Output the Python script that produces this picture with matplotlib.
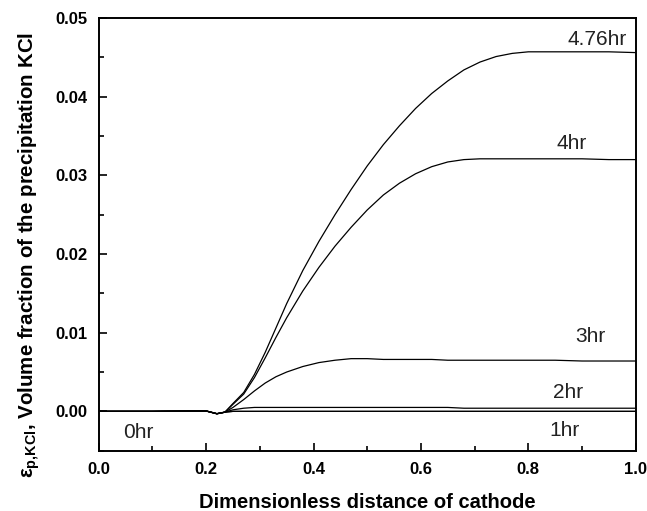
import matplotlib.pyplot as plt
from matplotlib.ticker import MultipleLocator

plt.rcParams['font.family'] = ['Liberation Sans', 'DejaVu Sans']
plt.rcParams['mathtext.fontset'] = 'custom'
plt.rcParams['mathtext.rm'] = 'Liberation Sans'
plt.rcParams['mathtext.bf'] = 'Liberation Sans:bold'

# Dimensionless distance of cathode
x = [0.0, 0.10, 0.18, 0.20, 0.22, 0.235, 0.25, 0.27, 0.29, 0.31, 0.33, 0.35,
     0.38, 0.41, 0.44, 0.47, 0.50, 0.53, 0.56, 0.59, 0.62, 0.65, 0.68, 0.71,
     0.74, 0.77, 0.80, 0.85, 0.90, 0.95, 1.0]

# volume fraction of precipitated KCl at each time
eps_0hr = [0.0, 0.0, 0.00005, 0.00005, -0.0003, -0.0001, 0.0, 0.0, 0.0, 0.0, 0.0, 0.0,
           0.0, 0.0, 0.0, 0.0, 0.0, 0.0, 0.0, 0.0, 0.0, 0.0, 0.0, 0.0,
           0.0, 0.0, 0.0, 0.0, 0.0, 0.0, 0.0]
eps_1hr = [0.0, 0.0, 0.00005, 0.00005, -0.0003, -0.0001, 0.0, 0.0, 0.0, 0.0, 0.0, 0.0,
           0.0, 0.0, 0.0, 0.0, 0.0, 0.0, 0.0, 0.0, 0.0, 0.0, 0.0, 0.0,
           0.0, 0.0, 0.0, 0.0, 0.0, 0.0, 0.0]
eps_2hr = [0.0, 0.0, 0.00005, 0.00005, -0.0003, -0.0001, 0.0002, 0.0004, 0.0005, 0.0005,
           0.0005, 0.0005, 0.0005, 0.0005, 0.0005, 0.0005, 0.0005, 0.0005, 0.0005,
           0.0005, 0.0005, 0.0005, 0.0004, 0.0004, 0.0004, 0.0004, 0.0004, 0.0004,
           0.0004, 0.0004, 0.0004]
eps_3hr = [0.0, 0.0, 0.00005, 0.00005, -0.0003, -0.0001, 0.0005, 0.0015, 0.0026, 0.0036,
           0.0044, 0.0050, 0.0057, 0.0062, 0.0065, 0.0067, 0.0067, 0.0066, 0.0066,
           0.0066, 0.0066, 0.0065, 0.0065, 0.0065, 0.0065, 0.0065, 0.0065, 0.0065,
           0.0064, 0.0064, 0.0064]
eps_4hr = [0.0, 0.0, 0.00005, 0.00005, -0.0003, -0.0001, 0.0009, 0.0022, 0.0043, 0.0068,
           0.0094, 0.0119, 0.0153, 0.0183, 0.0210, 0.0234, 0.0256, 0.0275, 0.0290,
           0.0302, 0.0311, 0.0317, 0.0320, 0.0321, 0.0321, 0.0321, 0.0321, 0.0321,
           0.0321, 0.0320, 0.0320]
eps_476hr = [0.0, 0.0, 0.00005, 0.00005, -0.0003, -0.0001, 0.0010, 0.0024, 0.0047, 0.0075,
             0.0106, 0.0137, 0.0179, 0.0216, 0.0250, 0.0282, 0.0312, 0.0339, 0.0363,
             0.0385, 0.0404, 0.0420, 0.0434, 0.0444, 0.0451, 0.0455, 0.0457, 0.0457,
             0.0457, 0.0457, 0.0456]

series = [eps_0hr, eps_1hr, eps_2hr, eps_3hr, eps_4hr, eps_476hr]
labels = ['0hr', '1hr', '2hr', '3hr', '4hr', '4.76hr']
label_x = [0.073, 0.868, 0.874, 0.915, 0.881, 0.928]
label_y = [-0.0027, -0.0024, 0.0024, 0.0095, 0.0341, 0.0473]

fig = plt.figure(figsize=(6.47, 5.11), dpi=100)
ax = fig.add_axes([0.1526, 0.118, 0.83, 0.8468])

for s in series:
    ax.plot(x, s, color='black', linewidth=0.9)

for lab, lx, ly in zip(labels, label_x, label_y):
    ax.text(lx, ly, lab, fontsize=15, ha='center', va='center', color='#222222')

ax.set_xlim(0, 1.0)
ax.set_ylim(-0.005, 0.05)
ax.xaxis.set_minor_locator(MultipleLocator(0.1))
ax.yaxis.set_minor_locator(MultipleLocator(0.005))
ax.set_xticks([0, 0.2, 0.4, 0.6, 0.8, 1.0])
ax.set_xticklabels(['0.0', '0.2', '0.4', '0.6', '0.8', '1.0'])
ax.set_yticks([0.0, 0.01, 0.02, 0.03, 0.04, 0.05])
ax.set_yticklabels(['0.00', '0.01', '0.02', '0.03', '0.04', '0.05'])
ax.tick_params(which='both', direction='in', top=False, right=False)
ax.tick_params(which='major', length=6, width=1.2, labelsize=12, pad=8)
ax.tick_params(which='minor', length=3.5, width=1.2)
for lbl in ax.get_xticklabels() + ax.get_yticklabels():
    lbl.set_fontweight('bold')
for sp in ax.spines.values():
    sp.set_linewidth(1.4)

ax.set_xlabel('Dimensionless distance of cathode', fontsize=14.5, fontweight='bold', labelpad=12)
ax.set_ylabel(r'ε$_{\mathbf{p{,}KCl}}$, Volume fraction of the precipitation KCl',
              fontsize=14.8, fontweight='bold', labelpad=10)
ax.yaxis.label.set_y(0.452)

fig.savefig('out.png', dpi=100)
